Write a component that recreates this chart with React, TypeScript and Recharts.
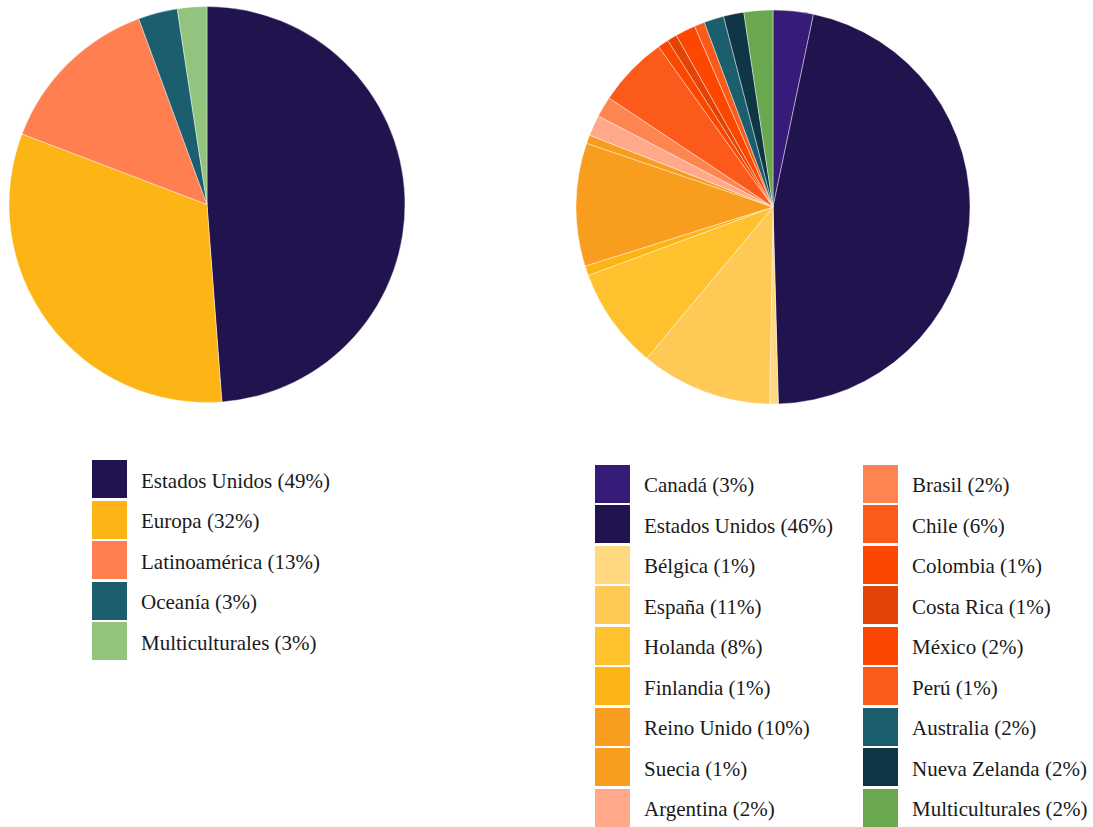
import React from "react";
import { PieChart, Pie, Cell } from "recharts";

const regionNames = ["Estados Unidos", "Europa", "Latinoamérica", "Oceanía", "Multiculturales"];
const regionValues = [61, 40, 17, 4, 3];
const regionLabels = ["49%", "32%", "13%", "3%", "3%"];
const regionColors = ["#21134d", "#fdb515", "#ff7f50", "#1b5f6e", "#93c47d"];

const countryNames = [
  "Canadá", "Estados Unidos", "Bélgica", "España", "Holanda", "Finlandia", "Reino Unido", "Suecia",
  "Argentina", "Brasil", "Chile", "Colombia", "Costa Rica", "México", "Perú", "Australia",
  "Nueva Zelanda", "Multiculturales",
];
const countryValues = [3.3, 46.3, 0.7, 10.8, 8.3, 0.8, 10.1, 0.7, 1.7, 1.7, 5.8, 0.9, 0.8, 1.65, 0.85, 1.63, 1.67, 2.37];
const countryLabels = ["3%", "46%", "1%", "11%", "8%", "1%", "10%", "1%", "2%", "2%", "6%", "1%", "1%", "2%", "1%", "2%", "2%", "2%"];
const countryColors = [
  "#371b78", "#21134d", "#ffd87f", "#ffc956", "#ffc12e", "#fdb515", "#f89d1e", "#f89d1e",
  "#ffa98a", "#ff8550", "#fc5a1a", "#fc4700", "#e24405", "#fc4700", "#fc5a1a", "#1b5f6e",
  "#0e3644", "#6aa84f",
];

const regionData = regionNames.map((n, i) => ({ name: n, value: regionValues[i] }));
const countryData = countryNames.map((n, i) => ({ name: n, value: countryValues[i] }));

const font = "\"Liberation Serif\", \"Times New Roman\", Times, \"DejaVu Serif\", serif";

function LegendItem({ x, y, color, text }: { x: number; y: number; color: string; text: string }) {
  return (
    <div style={{ position: "absolute", left: x, top: y, height: 38, display: "flex", alignItems: "center", whiteSpace: "nowrap" }}>
      <div style={{ width: 35, height: 38, background: color, boxShadow: "0 0 0 1px rgba(255,255,255,0.5)" }} />
      <span style={{ marginLeft: 14, fontFamily: font, fontSize: 21, color: "#1a1a1a", position: "relative", top: 2 }}>{text}</span>
    </div>
  );
}

export default function App() {
  return (
    <div style={{ position: "absolute", left: 0, top: 0, width: 1093, height: 827, background: "#fff", overflow: "hidden", fontFamily: font }}>
      <PieChart width={1093} height={420} margin={{ top: 0, right: 0, bottom: 0, left: 0 }}>
        <Pie
          data={regionData}
          dataKey="value"
          nameKey="name"
          cx={207}
          cy={204.5}
          outerRadius={198}
          startAngle={90}
          endAngle={-270}
          stroke="#ffffff"
          strokeWidth={0.6}
          strokeOpacity={0.7}
          isAnimationActive={false}
        >
          {regionData.map((d, i) => (
            <Cell key={d.name} fill={regionColors[i]} />
          ))}
        </Pie>
        <Pie
          data={countryData}
          dataKey="value"
          nameKey="name"
          cx={773}
          cy={207}
          outerRadius={197}
          startAngle={90}
          endAngle={-270}
          stroke="#ffffff"
          strokeWidth={0.6}
          strokeOpacity={0.7}
          isAnimationActive={false}
        >
          {countryData.map((d, i) => (
            <Cell key={d.name} fill={countryColors[i]} />
          ))}
        </Pie>
      </PieChart>
      {regionNames.map((n, i) => (
        <LegendItem key={n} x={92} y={460 + i * 40.5} color={regionColors[i]} text={`${n} (${regionLabels[i]})`} />
      ))}
      {countryNames.map((n, i) => {
        const col = i < 9 ? 0 : 1;
        const row = i % 9;
        return (
          <LegendItem
            key={n + i}
            x={col === 0 ? 595 : 863}
            y={464.5 + row * 40.5}
            color={countryColors[i]}
            text={`${n} (${countryLabels[i]})`}
          />
        );
      })}
    </div>
  );
}
